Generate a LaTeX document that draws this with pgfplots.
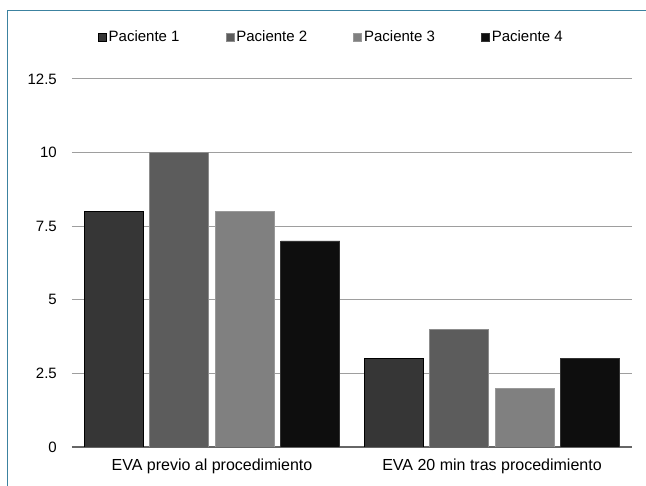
\documentclass[border=0pt]{standalone}
\usepackage{pgfplots}
\pgfplotsset{compat=1.18}
\usepackage{fontspec}
\setmainfont{Liberation Sans}
\definecolor{cA}{HTML}{363636}
\definecolor{cB}{HTML}{5C5C5C}
\definecolor{cC}{HTML}{808080}
\definecolor{cD}{HTML}{0E0E0E}
\definecolor{frame}{RGB}{60,130,160}
\begin{document}
\begin{tikzpicture}[x=1pt,y=1pt]
\path[use as bounding box] (0,0) rectangle (646,486);
\draw[frame, line width=1pt] (7,0) -- (7,475) -- (646,475);
\begin{axis}[
  at={(72pt,39pt)}, anchor=south west,
  scale only axis, width=560pt, height=368pt,
  ybar=6.5pt, bar width=59pt,
  xmin=-0.5, xmax=1.5, ymin=0, ymax=12.5,
  xtick={0,1},
  xticklabels={EVA previo al procedimiento, EVA 20 min tras procedimiento},
  ytick={0,2.5,5,7.5,10,12.5},
  yticklabels={0,2.5,5,7.5,10,12.5},
  major tick length=0pt,
  ymajorgrids, grid style={draw=black!38, line width=1pt},
  axis x line*=bottom, axis y line*=left,
  x axis line style={draw=black!60, line width=1.2pt, -},
  y axis line style={draw=none},
  tick label style={text=black},
  yticklabel style={font=\fontsize{15}{17}\selectfont, inner sep=0pt, anchor=east, xshift=-15pt},
  xticklabel style={font=\fontsize{16}{18}\selectfont, inner sep=0pt, anchor=north, yshift=-12pt},
  legend style={at={(0.463,1.114)}, anchor=center, draw=none,
    font=\fontsize{15}{17}\selectfont, text=black,
    legend columns=4, inner sep=0pt,
    /tikz/every even column/.append style={column sep=44pt}},
  legend image code/.code={\fill[#1] (0pt,-4pt) rectangle (8pt,4pt);},
]
\addplot[fill=cA, draw=black, line width=0.8pt] coordinates {(0,8) (1,3)};
\addplot[fill=cB, draw=black!45, line width=0.8pt] coordinates {(0,10) (1,4)};
\addplot[fill=cC, draw=black!40, line width=0.8pt] coordinates {(0,8) (1,2)};
\addplot[fill=cD, draw=black!80, line width=0.8pt] coordinates {(0,7) (1,3)};
\legend{Paciente 1, Paciente 2, Paciente 3, Paciente 4}
\end{axis}
\end{tikzpicture}
\end{document}
